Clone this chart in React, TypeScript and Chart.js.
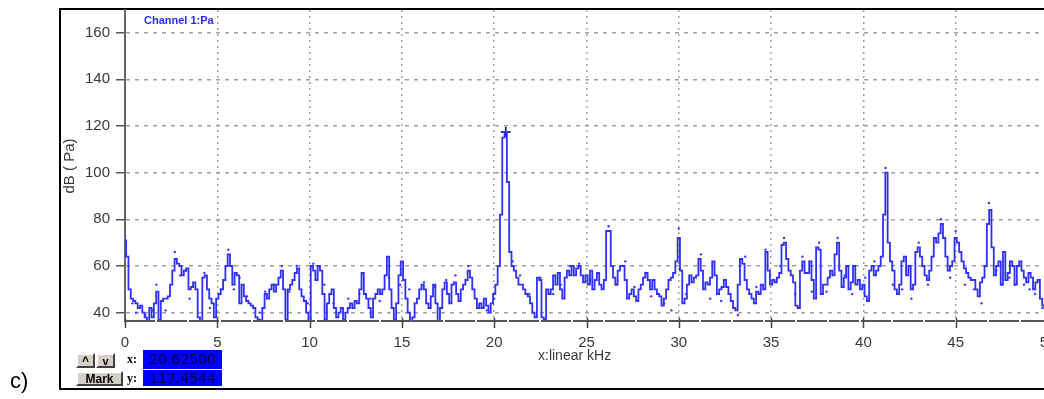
import React, { useEffect, useRef } from "react";
import { Chart, registerables } from "chart.js";

Chart.register(...registerables);

// Spectrum bins, 0.125 kHz apart (dB re Pa)
const binWidthKHz = 0.125;
const spectrum0to10 = [
  71, 64, 50, 46, 45, 44, 42, 43,
  40, 38, 35, 42, 38, 44, 49, 37,
  45, 46, 46, 47, 52, 58, 63, 61,
  60, 56, 58, 59, 50, 51, 53, 50,
  38, 35, 55, 56, 50, 46, 44, 38,
  46, 48, 50, 54, 60, 65, 60, 52,
  57, 56, 44, 52, 47, 45, 44, 43,
  42, 38, 37, 35, 42, 48, 46, 50,
  52, 49, 52, 55, 58, 50, 37, 50,
  52, 54, 57, 59, 50, 47, 45, 40,
];
const spectrum10to20 = [
  35, 60, 58, 54, 60, 58, 48, 37,
  44, 48, 50, 42, 38, 40, 42, 37,
  40, 42, 44, 42, 45, 44, 50, 57,
  48, 46, 42, 38, 46, 48, 50, 48,
  50, 56, 64, 50, 42, 37, 44, 56,
  62, 54, 46, 40, 35, 38, 44, 46,
  50, 52, 50, 44, 42, 47, 52, 44,
  35, 42, 50, 53, 48, 44, 52, 53,
  48, 45, 50, 52, 54, 58, 55, 50,
  46, 42, 44, 42, 46, 43, 40, 44,
];
const spectrum20to30 = [
  48, 52, 60, 82, 115, 117.4544, 96, 66,
  60, 58, 55, 52, 52, 50, 48, 47,
  44, 40, 38, 55, 54, 38, 37, 50,
  48, 50, 56, 52, 57, 50, 46, 55,
  58, 56, 60, 56, 59, 60, 56, 53,
  56, 52, 58, 50, 54, 57, 52, 50,
  54, 75, 75, 60, 55, 52, 58, 60,
  60, 54, 46, 48, 50, 47, 45, 50,
  52, 55, 57, 54, 50, 54, 50, 48,
  47, 43, 46, 50, 54, 55, 57, 62,
];
const spectrum30to40 = [
  72, 58, 44, 46, 52, 56, 53, 55,
  56, 63, 58, 50, 53, 52, 55, 62,
  56, 48, 50, 51, 54, 51, 48, 45,
  42, 41, 52, 63, 61, 54, 50, 48,
  46, 44, 49, 48, 52, 50, 66, 58,
  52, 54, 53, 55, 57, 69, 70, 63,
  58, 56, 53, 43, 42, 58, 62, 57,
  57, 62, 54, 46, 68, 67, 48, 52,
  52, 55, 58, 56, 65, 70, 58, 51,
  55, 60, 50, 53, 60, 52, 54, 50,
];
const spectrum40to50 = [
  52, 47, 45, 58, 60, 56, 58, 60,
  64, 82, 100, 70, 62, 58, 50, 48,
  52, 62, 64, 56, 60, 50, 52, 66,
  68, 64, 60, 56, 54, 58, 64, 72,
  70, 74, 78, 72, 64, 58, 60, 62,
  72, 70, 66, 62, 59, 57, 55, 54,
  54, 50, 47, 53, 55, 60, 78, 84,
  68, 56, 60, 62, 52, 66, 54, 57,
  62, 60, 52, 60, 62, 58, 55, 53,
  57, 55, 50, 53, 54, 46, 43, 42,
  42,
];

// Scattered individual samples [kHz, dB]
const sampleDots: [number, number][] = [
  [0.0, 73], [0.4, 44], [0.6, 40], [1.1, 39], [1.5, 41], [1.7, 52], [2.2, 41], [2.7, 66],
  [3.0, 56], [3.3, 58], [3.5, 46], [4.3, 57], [4.6, 42], [5.2, 50], [5.6, 67], [5.9, 50],
  [6.2, 55], [6.6, 47], [7.3, 40], [7.6, 49], [8.1, 52], [8.5, 60], [8.9, 49], [9.3, 60],
  [9.9, 44], [10.2, 61], [10.8, 52], [11.3, 44], [12.1, 46], [12.7, 48], [13.3, 46], [13.8, 45],
  [14.3, 55], [14.9, 52], [15.4, 50], [16.2, 53], [16.8, 51], [17.4, 54], [17.9, 56], [18.6, 60],
  [19.2, 42], [19.6, 41], [20.0, 46], [21.0, 62], [21.4, 56], [21.9, 48], [22.5, 55], [23.2, 48],
  [23.6, 52], [24.1, 60], [24.6, 61], [25.2, 54], [26.2, 77], [26.6, 52], [27.1, 62], [27.6, 51],
  [28.2, 57], [28.5, 47], [29.2, 44], [29.6, 41], [30.0, 76], [30.4, 48], [31.2, 65], [31.7, 46],
  [32.3, 45], [33.2, 39], [33.6, 64], [34.2, 51], [34.7, 67], [35.5, 60], [35.7, 72], [36.3, 48],
  [36.7, 64], [37.2, 49], [37.6, 70], [38.0, 49], [38.6, 72], [39.0, 56], [39.4, 48], [40.1, 55],
  [40.6, 62], [41.2, 102], [41.6, 52], [42.1, 50], [42.6, 46], [43.0, 70], [43.5, 52], [44.2, 80],
  [44.7, 55], [45.0, 75], [45.5, 52], [46.0, 50], [46.4, 44], [46.8, 87], [47.2, 58], [47.5, 52],
  [47.9, 55], [48.2, 52], [48.7, 52], [49.0, 50], [49.3, 48], [49.7, 42],
];

const markerX = 20.625;
const markerY = 117.4544;

const xTicks = [0, 5, 10, 15, 20, 25, 30, 35, 40, 45, 50];
const yTicks = [40, 60, 80, 100, 120, 140, 160];

const FONT = 'Arial, "Liberation Sans", sans-serif';

const bottomAxisPlugin = {
  id: "bottomAxis",
  afterDatasetsDraw(chart: any) {
    const { ctx, chartArea, scales } = chart;
    ctx.save();
    ctx.strokeStyle = "#555";
    ctx.lineWidth = 2;
    ctx.setLineDash([30, 2]);
    ctx.beginPath();
    ctx.moveTo(chartArea.left, chartArea.bottom - 1);
    ctx.lineTo(chartArea.right, chartArea.bottom - 1);
    ctx.stroke();
    ctx.setLineDash([]);
    ctx.lineWidth = 1.5;
    ctx.strokeStyle = "#444";
    xTicks.forEach((v) => {
      const px = Math.round(scales.x.getPixelForValue(v)) + 0.5;
      ctx.beginPath();
      ctx.moveTo(px, chartArea.bottom - 4);
      ctx.lineTo(px, chartArea.bottom + 6);
      ctx.stroke();
    });
    ctx.restore();
  },
};

export default function App() {
  const canvasRef = useRef<HTMLCanvasElement | null>(null);

  useEffect(() => {
    const canvas = canvasRef.current;
    if (!canvas) return;
    const values = [
      ...spectrum0to10,
      ...spectrum10to20,
      ...spectrum20to30,
      ...spectrum30to40,
      ...spectrum40to50,
    ];
    const linePoints = values.map((v, i) => ({ x: i * binWidthKHz, y: v }));
    const dotPoints = sampleDots.map(([x, y]) => ({ x, y }));

    const chart = new Chart(canvas, {
      type: "line",
      data: {
        datasets: [
          {
            label: "Channel 1:Pa",
            data: linePoints,
            borderColor: "#3030ff",
            borderWidth: 1.8,
            pointRadius: 0,
            stepped: "middle",
            fill: false,
          },
          {
            type: "scatter",
            label: "samples",
            data: dotPoints,
            pointRadius: 1.2,
            pointBorderWidth: 0,
            backgroundColor: "#3a3aff",
            borderColor: "#3a3aff",
            showLine: false,
          } as any,
          {
            type: "scatter",
            label: "marker",
            data: [{ x: markerX, y: markerY }],
            pointStyle: "cross",
            pointRadius: 5,
            borderColor: "#000080",
            pointBorderWidth: 1.5,
            showLine: false,
          } as any,
        ],
      },
      options: {
        animation: false,
        responsive: false,
        devicePixelRatio: 1,
        layout: { padding: { left: 0, top: 10, right: 32, bottom: 0 } },
        plugins: {
          legend: { display: false },
          tooltip: { enabled: false },
        },
        scales: {
          x: {
            type: "linear",
            min: 0,
            max: 50,
            afterBuildTicks: (s: any) => {
              s.ticks = xTicks.map((v) => ({ value: v }));
            },
            afterFit: (s: any) => {
              s.height = 77;
              s.paddingLeft = 0;
              s.paddingRight = 0;
            },
            grid: { color: "#a0a0a0", lineWidth: 1.5, drawTicks: false },
            border: { display: false, dash: [2, 4] },
            ticks: {
              padding: 12,
              color: "#3a3a3a",
              font: { family: FONT, size: 15 },
              maxRotation: 0,
              autoSkip: false,
            },
          },
          y: {
            type: "linear",
            min: 36,
            max: 169.7,
            afterBuildTicks: (s: any) => {
              s.ticks = yTicks.map((v) => ({ value: v }));
            },
            afterFit: (s: any) => {
              s.width = 125;
              s.paddingTop = 0;
              s.paddingBottom = 0;
            },
            grid: {
              color: "#a0a0a0",
              lineWidth: 1.5,
              drawTicks: true,
              tickLength: 9,
              tickColor: "#555",
              tickWidth: 1.5,
              tickBorderDash: [],
            },
            border: { display: true, color: "#666", width: 2, dash: [4, 5] },
            ticks: {
              padding: 6,
              color: "#3a3a3a",
              font: { family: FONT, size: 15 },
              autoSkip: false,
            },
            title: {
              display: true,
              text: "dB ( Pa)",
              color: "#3a3a3a",
              font: { family: FONT, size: 15 },
              padding: { top: 61, bottom: 0 },
            },
          },
        },
      } as any,
      plugins: [bottomAxisPlugin],
    });
    return () => chart.destroy();
  }, []);

  const btn: React.CSSProperties = {
    position: "absolute",
    boxSizing: "border-box",
    background: "#d4d0c8",
    borderTop: "2px solid #ffffff",
    borderLeft: "2px solid #ffffff",
    borderRight: "2px solid #404040",
    borderBottom: "2px solid #404040",
    fontFamily: FONT,
    fontWeight: "bold",
    color: "#000",
    textAlign: "center",
    lineHeight: "11px",
  };
  const valBox: React.CSSProperties = {
    position: "absolute",
    left: 143,
    width: 79,
    boxSizing: "border-box",
    background: "#0000ff",
    color: "#000038",
    fontFamily: '"DejaVu Sans", sans-serif',
    fontSize: 14,
    textAlign: "center",
  };
  const lbl: React.CSSProperties = {
    position: "absolute",
    left: 127,
    fontFamily: '"Liberation Serif", serif',
    fontWeight: "bold",
    fontSize: 12,
    lineHeight: "12px",
    color: "#000",
  };

  return (
    <div
      style={{
        position: "fixed",
        left: 0,
        top: 0,
        width: 1044,
        height: 399,
        overflow: "hidden",
        background: "#fff",
      }}
    >
      <div
        style={{
          position: "absolute",
          left: 59,
          top: 8,
          width: 1100,
          height: 382,
          boxSizing: "border-box",
          border: "2px solid #000",
        }}
      />
      <canvas
        ref={canvasRef}
        width={1080}
        height={399}
        style={{ position: "absolute", left: 0, top: 0, width: 1080, height: 399 }}
      />
      <div
        style={{
          position: "absolute",
          left: 144,
          top: 15,
          fontFamily: FONT,
          fontWeight: "bold",
          fontSize: 11,
          lineHeight: "11px",
          color: "#2a2aff",
          whiteSpace: "nowrap",
        }}
      >
        Channel 1:Pa
      </div>
      <div
        style={{
          position: "absolute",
          left: 538,
          top: 348,
          fontFamily: FONT,
          fontSize: 14,
          lineHeight: "14px",
          color: "#3a3a3a",
          whiteSpace: "nowrap",
        }}
      >
        x:linear kHz
      </div>
      <div
        style={{
          position: "absolute",
          left: 10,
          top: 370,
          fontFamily: FONT,
          fontSize: 22,
          lineHeight: "22px",
          color: "#000",
        }}
      >
        c)
      </div>
      <div style={{ ...btn, left: 76, top: 353, width: 19, height: 15, fontSize: 12, paddingTop: 1 }}>^</div>
      <div style={{ ...btn, left: 96, top: 353, width: 19, height: 15, fontSize: 11, paddingTop: 1 }}>v</div>
      <div style={{ ...btn, left: 76, top: 371, width: 47, height: 15, fontSize: 12, paddingTop: 1 }}>Mark</div>
      <div style={{ ...lbl, top: 353 }}>x:</div>
      <div style={{ ...lbl, top: 372 }}>y:</div>
      <div style={{ ...valBox, top: 350, height: 19, lineHeight: "19px" }}>20.62500</div>
      <div style={{ ...valBox, top: 370, height: 16, lineHeight: "16px" }}>117.4544</div>
    </div>
  );
}
